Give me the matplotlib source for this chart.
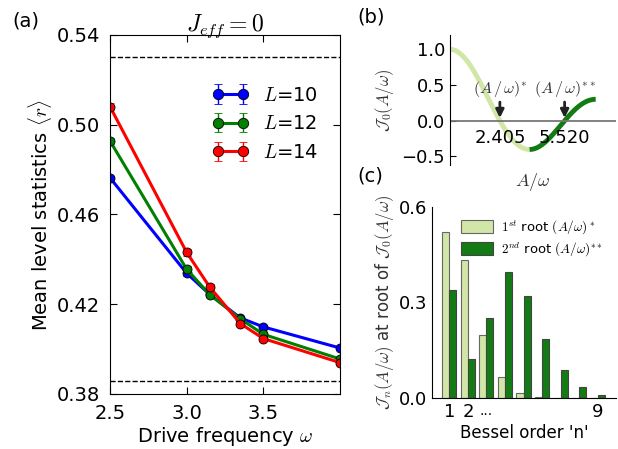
import numpy as np
import matplotlib
matplotlib.use('Agg')
import matplotlib.pyplot as plt

# (a) mean level statistics vs drive frequency
omega = [2.5, 3.0, 3.15, 3.35, 3.5, 4.0]
r_L10 = [0.4763, 0.4338, 0.4244, 0.4139, 0.4099, 0.4005]
r_L12 = [0.4927, 0.4356, 0.4243, 0.4135, 0.4066, 0.3956]
r_L14 = [0.5080, 0.4431, 0.4277, 0.4114, 0.4047, 0.3940]
err_L10 = [0.0010, 0.0012, 0.0010, 0.0008, 0.0008, 0.0006]
err_L12 = [0.0012, 0.0012, 0.0010, 0.0008, 0.0008, 0.0006]
err_L14 = [0.0015, 0.0015, 0.0012, 0.0010, 0.0010, 0.0008]
labels_L = ['$L$=10', '$L$=12', '$L$=14']
r_goe = 0.530
r_poisson = 0.386

# (b) Bessel J0 curve, roots and the extrema where the colour changes / ends
root1 = 2.405
root2 = 5.520
jmin = 3.832
jmax = 7.016

# (c) |J_n| at the two roots of J0
n_order = [1, 2, 3, 4, 5, 6, 7, 8, 9]
jn_root1 = [0.519, 0.432, 0.199, 0.065, 0.016, 0.003, 0.0006, 0.0001, 0.0]
jn_root2 = [0.340, 0.123, 0.250, 0.396, 0.321, 0.187, 0.087, 0.034, 0.011]

light = '#d2e6a8'
dark = '#137b13'

plt.rcParams['font.family'] = 'DejaVu Sans'
plt.rcParams['mathtext.fontset'] = 'cm'

fig = plt.figure(figsize=(6.18, 4.49), dpi=100)

# ---- panel (a)
ax = fig.add_axes([0.178, 0.1225, 0.372, 0.80])
for y, e, c, lab in zip([r_L10, r_L12, r_L14], [err_L10, err_L12, err_L14],
                        ['b', 'g', 'r'], labels_L):
    ax.errorbar(omega, y, yerr=e, color=c, lw=2.2, marker='o', ms=6.5,
                mec='k', mew=0.6, capsize=3, elinewidth=1, label=lab)
ax.axhline(r_goe, color='k', ls='--', lw=1)
ax.axhline(r_poisson, color='k', ls='--', lw=1)
ax.set_xlim(2.5, 4.0)
ax.set_ylim(0.38, 0.54)
ax.set_xticks([2.5, 3.0, 3.5])
ax.set_yticks([0.38, 0.42, 0.46, 0.50, 0.54])
ax.tick_params(direction='in', top=True, right=True, labelsize=14, length=5,
               pad=7)
ax.set_xlabel(r'Drive frequency $\omega$', fontsize=14, labelpad=2)
ax.set_ylabel(r'Mean level statistics $\langle r\rangle$', fontsize=14,
              labelpad=2)
ax.set_title(r'$J_{eff}=0$', fontsize=17, pad=3)
ax.legend(loc='upper left', bbox_to_anchor=(0.41, 0.88), frameon=False,
          numpoints=2, fontsize=14, handlelength=1.9, handletextpad=0.7,
          labelspacing=0.5, borderaxespad=0, markerscale=1.15)

# ---- panel (b)
bx = fig.add_axes([0.728, 0.6325, 0.269, 0.2895])
xs1 = np.linspace(0, jmin, 200)
xs2 = np.linspace(jmin, jmax, 200)
# J0 through its integral representation
tt = np.linspace(0, np.pi, 400)
j0 = lambda x: np.trapezoid(np.cos(np.outer(x, np.sin(tt))), tt, axis=1) / np.pi
bx.plot(xs1, j0(xs1), color=light, lw=3.5, solid_capstyle='butt')
bx.plot(xs2, j0(xs2), color=dark, lw=3.5, solid_capstyle='butt')
bx.axhline(0, color='#777777', lw=1.3)
bx.set_xlim(0, 8)
bx.set_ylim(-0.62, 1.2)
for s in ['top', 'right', 'bottom']:
    bx.spines[s].set_visible(False)
bx.set_xticks([])
bx.set_yticks([-0.5, 0.0, 0.5, 1.0])
bx.tick_params(direction='in', labelsize=13, length=4)
for xr, star in [(root1, '*'), (root2, '**')]:
    bx.annotate('', xy=(xr, 0.0), xytext=(xr, 0.30),
                arrowprops=dict(arrowstyle='-|>', color='#222222', lw=2,
                                mutation_scale=12))
    bx.text(xr, 0.30, r'$\left(A\,/\,\omega\right)^{%s}$' % star,
            ha='center', va='bottom', fontsize=11.5, color='#333333')
    bx.text(xr, -0.12, '%.3f' % xr, ha='center', va='top', fontsize=13)
bx.set_xlabel(r'$A/\omega$', fontsize=13, color='#333333', labelpad=4)
bx.set_ylabel(r'$\mathcal{J}_0(A/\omega)$', fontsize=12, color='#333333')

# ---- panel (c)
cx = fig.add_axes([0.699, 0.113, 0.298, 0.427])
w = 0.38
cx.bar(np.array(n_order) - w / 2, jn_root1, width=w, color=light,
       edgecolor='#666666', lw=0.8,
       label=r'$1^{st}$ root $(A/\omega)^*$')
cx.bar(np.array(n_order) + w / 2, jn_root2, width=w, color=dark,
       edgecolor='#444444', lw=0.8,
       label=r'$2^{nd}$ root $(A/\omega)^{**}$')
cx.set_xlim(0.06, 10.0)
cx.set_ylim(0, 0.6)
for s in ['top', 'right']:
    cx.spines[s].set_visible(False)
cx.set_yticks([0.0, 0.3, 0.6])
cx.set_xticks([1, 2, 9])
cx.set_xticklabels(['1', '2', '9'])
cx.tick_params(length=0, labelsize=13)
cx.text(2.6, -0.05, '\u00b7\u00b7\u00b7', transform=cx.get_xaxis_transform(),
        ha='left', va='top', fontsize=10)
cx.set_xlabel("Bessel order 'n'", fontsize=12, labelpad=2)
cx.set_ylabel(r'$\mathcal{J}_n(A/\omega)$ at root of $\mathcal{J}_0(A/\omega)$',
              fontsize=12, color='#333333', labelpad=2)
cx.legend(loc='upper right', bbox_to_anchor=(0.99, 1.0), frameon=False,
          fontsize=9.5, handlelength=2.4, handleheight=1.1, labelspacing=0.3,
          handletextpad=0.6)

fig.text(0.02, 0.94, '(a)', fontsize=14)
fig.text(0.578, 0.95, '(b)', fontsize=14)
fig.text(0.578, 0.595, '(c)', fontsize=14)

fig.savefig('out.png', dpi=100)
